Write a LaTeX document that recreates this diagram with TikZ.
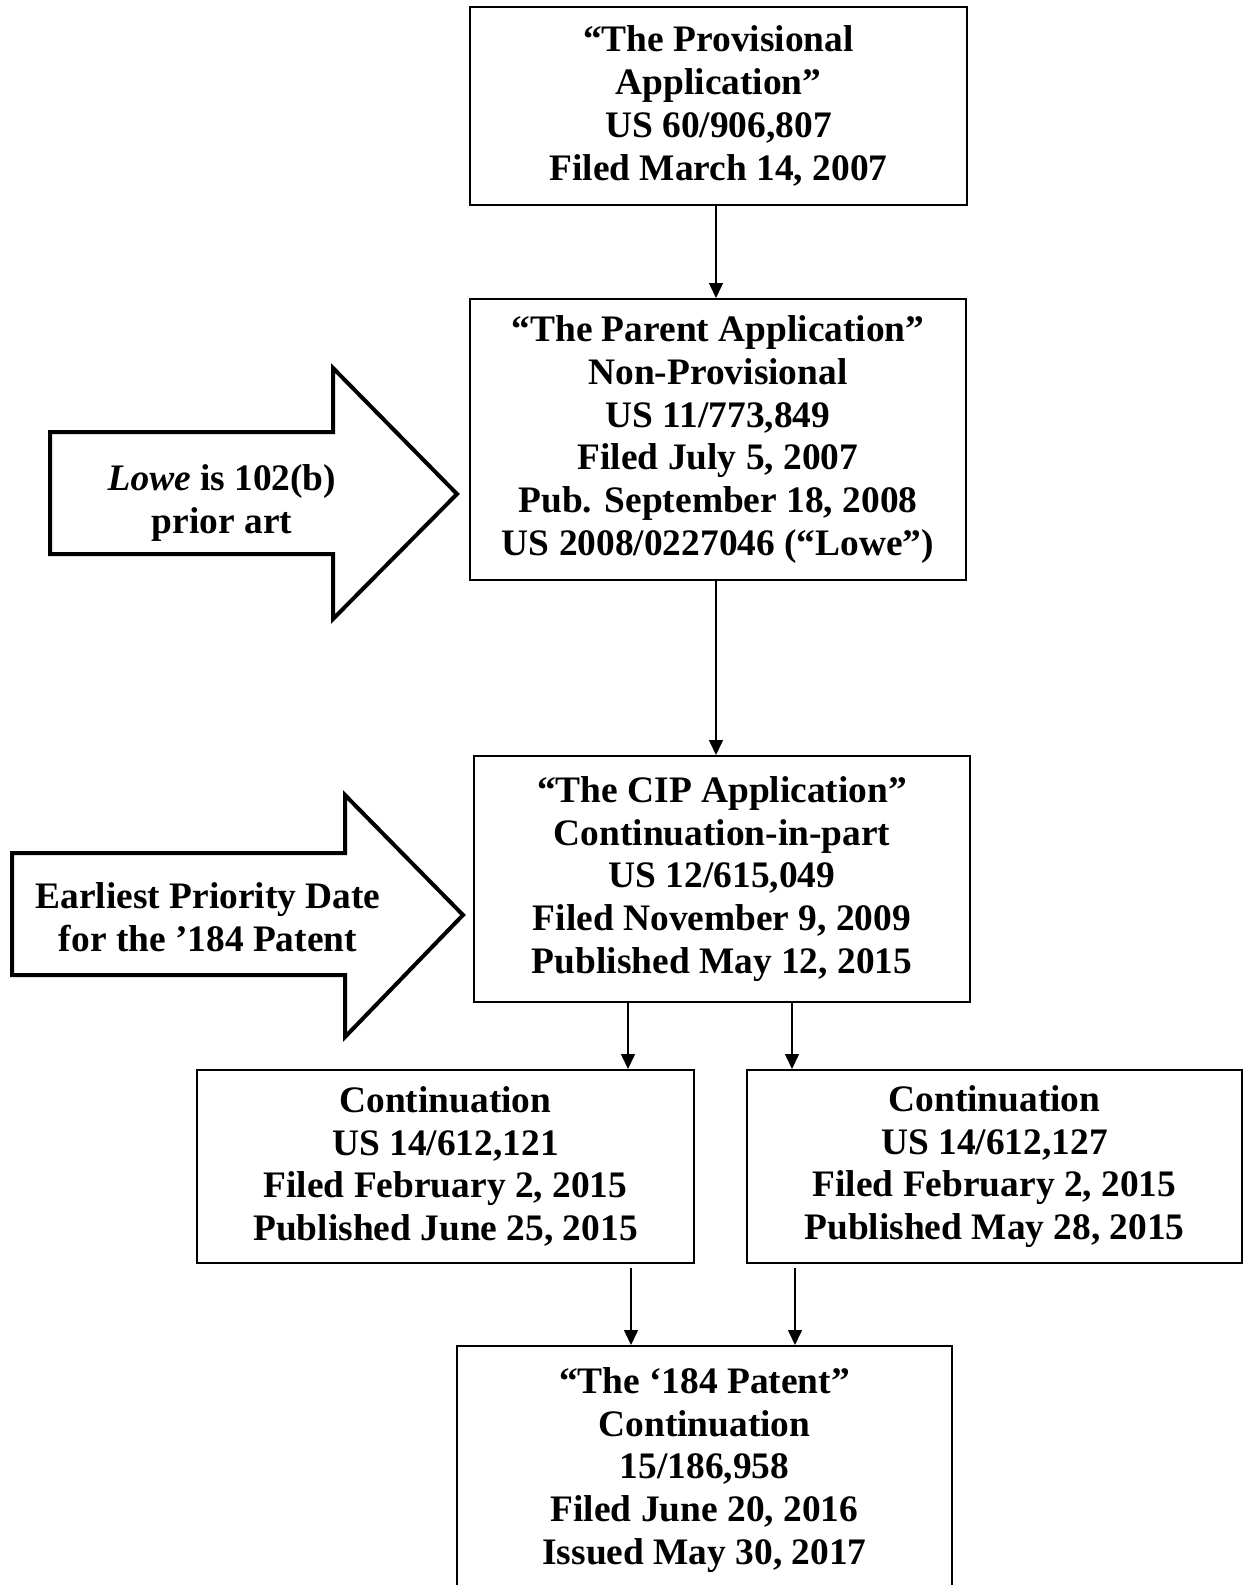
\documentclass[tikz,border=0pt]{standalone}
\usepackage{fontspec}
\setmainfont{Liberation Serif}
\usetikzlibrary{arrows.meta}
\begin{document}
\begin{tikzpicture}[x=0.5pt,y=-0.5pt,
  txt/.style={font=\bfseries\fontsize{18.7}{21.4}\selectfont},
  box/.style={draw, line width=1pt, align=center, txt, inner sep=0pt},
  conn/.style={line width=0.75pt, -{Triangle[length=7.5pt,width=7pt]}},
  blockarrow/.style={draw, line width=2pt, fill=white, line join=miter},
  lbl/.style={align=center, txt, inner sep=0pt}]
\useasboundingbox (0,0) rectangle (1244,1585);
\clip (0,0) rectangle (1244,1585);

\node[box, minimum width=248.5pt, minimum height=99pt] (b1) at (718.5,106)
  {“The Provisional\\Application”\\US 60/906,807\\Filed March 14, 2007};
\node[box, minimum width=248pt, minimum height=140.5pt] (b2) at (718,439.5)
  {“The Parent Application”\\Non-Provisional\\US 11/773,849\\Filed July 5, 2007\\Pub. September 18, 2008\\US 2008/0227046 (“Lowe”)};
\node[box, minimum width=248pt, minimum height=123pt] (b3) at (722,879)
  {“The CIP Application”\\Continuation-in-part\\US 12/615,049\\Filed November 9, 2009\\Published May 12, 2015};
\node[box, minimum width=248.5pt, minimum height=96.5pt] (b4) at (445.5,1166.5)
  {Continuation\\US 14/612,121\\Filed February 2, 2015\\Published June 25, 2015};
\node[box, minimum width=247.5pt, minimum height=96.5pt] (b5) at (994.5,1166.5)
  {Continuation\\US 14/612,127\\Filed February 2, 2015\\Published May 28, 2015};
\node[box, minimum width=247.5pt, minimum height=124pt] (b6) at (704.5,1470)
  {“The ‘184 Patent”\\Continuation\\15/186,958\\Filed June 20, 2016\\Issued May 30, 2017};

% block arrows
\draw[blockarrow] (50,432) -- (333,432) -- (333,368) -- (457,494) -- (333,619)
  -- (333,554) -- (50,554) -- cycle;
\node[lbl] (lowe) at (222,503) {\textit{Lowe} is 102(b)\\prior art};
\draw[blockarrow] (12,853) -- (345,853) -- (345,795) -- (463,915) -- (345,1037)
  -- (345,975) -- (12,975) -- cycle;
\node[lbl] (prio) at (208,917) {Earliest Priority Date\\for the ’184 Patent};

% connectors
\coordinate (xa) at (716,0);
\coordinate (xl) at (628,0);
\coordinate (xr) at (792,0);
\coordinate (xl2) at (631,0);
\coordinate (xr2) at (795,0);
\draw[conn] (xa |- b1.south) -- (xa |- b2.north);
\draw[conn] (xa |- b2.south) -- (xa |- b3.north);
\draw[conn] (xl |- b3.south) -- (xl |- b4.north);
\draw[conn] (xr |- b3.south) -- (xr |- b5.north);
\draw[conn] ([yshift=-2pt]xl2 |- b4.south) -- (xl2 |- b6.north);
\draw[conn] ([yshift=-2pt]xr2 |- b5.south) -- (xr2 |- b6.north);
\end{tikzpicture}
\end{document}
